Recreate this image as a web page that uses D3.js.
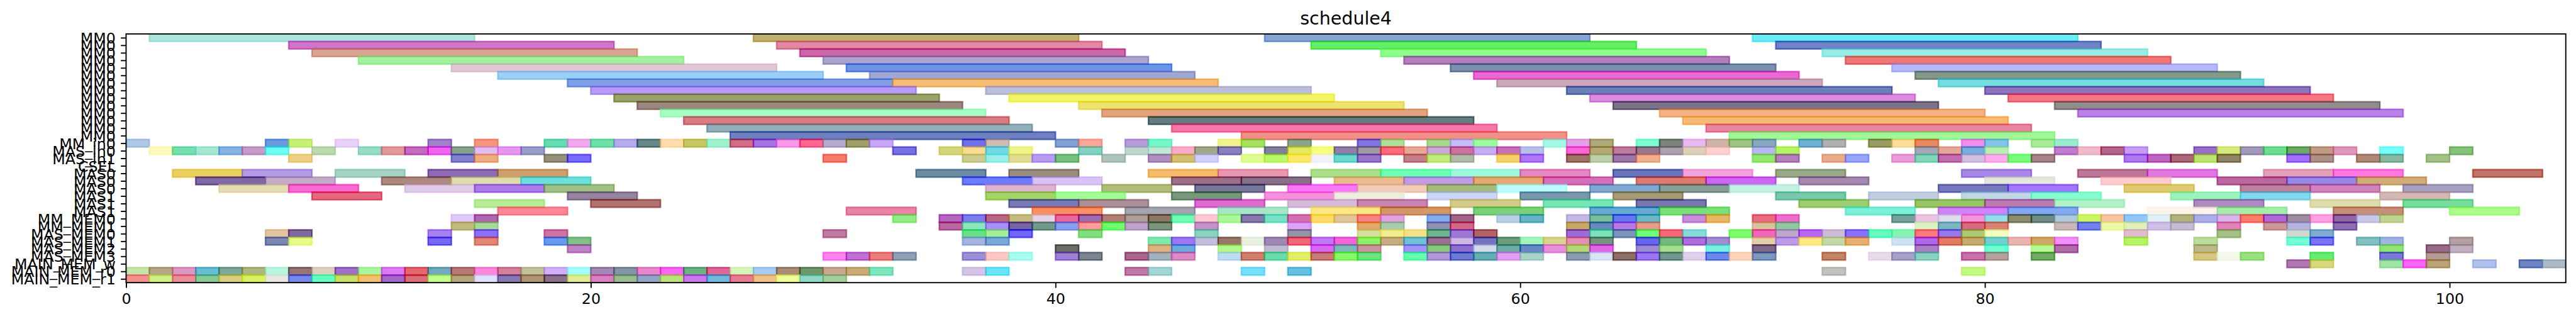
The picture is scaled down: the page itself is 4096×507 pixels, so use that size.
<!DOCTYPE html>
<html>
<head>
<meta charset="utf-8">
<script src="https://cdn.jsdelivr.net/npm/d3@7"></script>
<style>html,body{margin:0;padding:0;background:#fff;overflow:hidden}svg{display:block}text{font-family:"DejaVu Sans",sans-serif;fill:#000}</style>
</head>
<body>
<div id="chart"></div>
<script>
const title = "schedule4";
const rowLabels = ["MM0","MM0","MM0","MM0","MM0","MM0","MM0","MM0","MM0","MM0","MM0","MM0","MM0","MM0",
  "MM_in0","MAS_in0","MAS_in1","CSEL","MAS0","MAS0","MAS0","MAS1","MAS1","MAS1",
  "MM_MEM0","MM_MEM1","MAS_MEM0","MAS_MEM1","MAS_MEM2","MAS_MEM3","MAIN_MEM_w","MAIN_MEM_r0","MAIN_MEM_r1"];
const xTicks = [0,20,40,60,80,100];
const xMax = 105;

// Each entry: [start step, colour as seen on white]
const mm0 = [[1,"#b0e2de"],[27,"#c4b06e"],[49,"#85a4d4"],[70,"#6eecf6"]];
const mm1 = [[7,"#cf76c8"],[28,"#e088a4"],[51,"#66ee66"],[71,"#6e84c6"]];
const mm2 = [[8,"#d8a494"],[29,"#cb66a8"],[54,"#90fe8e"],[73,"#98ece4"]];
const mm3 = [[10,"#a4f2a0"],[30,"#aca4cc"],[55,"#b47ebc"],[74,"#ee7878"]];
const mm4 = [[14,"#e2c8d6"],[31,"#6c94e8"],[57,"#7a90ae"],[76,"#b6b8f8"]];
const mm5 = [[16,"#9acff6"],[32,"#9fa8d4"],[58,"#ea68d2"],[77,"#84988a"]];
const mm6 = [[19,"#82a0e6"],[33,"#f4bc76"],[59,"#cca8bc"],[78,"#76dce0"]];
const mm7 = [[20,"#b79bf4"],[37,"#bcbedc"],[62,"#6a80b6"],[80,"#8e74bc"]];
const mm8 = [[21,"#9aa26c"],[38,"#f0f460"],[63,"#d78cdc"],[81,"#f67684"]];
const mm9 = [[22,"#9a8880"],[41,"#eee270"],[64,"#7a7488"],[83,"#908c8c"]];
const mm10 = [[23,"#a8fcc4"],[42,"#e2a47e"],[66,"#f4b284"],[84,"#bb82e6"]];
const mm11 = [[24,"#d67c82"],[44,"#667c80"],[67,"#f8bb74"]];
const mm12 = [[25,"#92aeb8"],[45,"#f678a8"],[68,"#e8849e"]];
const mm13 = [[26,"#6e80c0"],[48,"#f09088"],[69,"#a2f69a"]];

const mmIn0 = [[0,"#afc8e8"],[6,"#6c9cdf"],[7,"#c6f07c"],[9,"#e8d0f6"],[13,"#9f82c8"],[15,"#f4967e"],[18,"#62dcb0"],[19,"#eeaaec"],[20,"#6ee0a8"],[21,"#b6acea"],[22,"#688888"],[23,"#fedcb0"],[24,"#c4c866"],[25,"#9ef2ce"],[26,"#d06e88"],[27,"#a674e0"],[28,"#f898e8"],[29,"#ff6892"],[30,"#b4acca"],[31,"#a09f6c"],[32,"#c8a8f4"],[36,"#7070e4"],[37,"#ccbcb4"],[40,"#82a0d0"],[41,"#f8a89a"],[43,"#b89ad8"],[44,"#78f6cc"],[47,"#f2f290"],[48,"#a6de66"],[50,"#8ca48c"],[53,"#8074e0"],[54,"#aede9a"],[56,"#a8d68e"],[57,"#c4bcf8"],[58,"#a0fca0"],[61,"#a6f8e4"],[62,"#e4a0e8"],[63,"#aea87c"],[65,"#7efcd2"],[66,"#7a8478"],[67,"#e8b8f0"],[68,"#ccb4a8"],[69,"#a0c488"],[70,"#88a8c0"],[72,"#70b0d0"],[73,"#b0b0b0"],[75,"#9a9c5c"],[76,"#fadc9c"],[77,"#e68a60"],[79,"#ee90ee"],[80,"#84c4e8"],[82,"#a8ec98"],[83,"#9eecce"]];
const masIn0 = [[1,"#fef8bc"],[2,"#78e0b0"],[3,"#a8e6d4"],[4,"#86b4de"],[5,"#c89cc8"],[6,"#70fcf0"],[8,"#bcd8ac"],[10,"#98dcc6"],[11,"#e09a9c"],[12,"#c46cc0"],[13,"#f05ef0"],[14,"#88a090"],[15,"#e0bcf0"],[16,"#e698f0"],[17,"#9c9cc8"],[33,"#7a70e0"],[35,"#d4d67c"],[36,"#f8dc90"],[37,"#72d8e8"],[38,"#eef48c"],[41,"#84d0c0"],[43,"#c0d4d0"],[44,"#c0e8d4"],[45,"#f8acca"],[46,"#a0a88c"],[47,"#8880bc"],[49,"#80809c"],[50,"#e0e858"],[51,"#f4fe80"],[52,"#9080a8"],[53,"#a09ca4"],[54,"#f86c7c"],[55,"#e8a898"],[56,"#cca8d4"],[57,"#cc70a0"],[58,"#c8acf0"],[59,"#c870b8"],[60,"#b8c0e8"],[62,"#f858d8"],[63,"#b4a874"],[64,"#bc7c9c"],[65,"#987890"],[66,"#aca0ac"],[67,"#dcd0b8"],[68,"#fed0d0"],[70,"#b8b8ec"],[71,"#b4f464"],[77,"#a4a8b8"],[78,"#e4a898"],[79,"#78acdc"],[80,"#b8f0b4"],[83,"#c07cd0"],[84,"#eebcc8"],[85,"#b06488"],[86,"#c89cf6"],[89,"#9a70c4"],[90,"#d4ea7c"],[91,"#a49ab8"],[92,"#70dc90"],[93,"#70a868"],[94,"#c09c88"],[95,"#e098b8"],[97,"#78fcfc"],[100,"#88c07c"]];
const masIn1 = [[7,"#ecd088"],[14,"#8480d0"],[15,"#eeac80"],[18,"#96907c"],[19,"#786cfc"],[30,"#f47c70"],[36,"#cccc90"],[37,"#98eee8"],[38,"#e0dc98"],[39,"#b89cf4"],[40,"#78c07c"],[42,"#b0c4bc"],[44,"#b090c0"],[45,"#d4c070"],[46,"#d0d0fc"],[48,"#defc8e"],[49,"#bcf86c"],[50,"#fce868"],[51,"#f4f0fa"],[52,"#6cd8cc"],[53,"#9878cc"],[55,"#c48088"],[56,"#c0ec7c"],[57,"#b0bca8"],[59,"#f4d468"],[60,"#ac78f8"],[62,"#9c7468"],[63,"#bcd0a8"],[64,"#9c78a8"],[65,"#f0b090"],[70,"#94e870"],[71,"#b480bc"],[73,"#e8ac8c"],[74,"#98a4fc"],[76,"#e89cd8"],[77,"#80d8b8"],[78,"#c070b0"],[79,"#d0c0e0"],[80,"#fcacec"],[81,"#78fc7c"],[82,"#a48488"],[86,"#b078f0"],[87,"#c064c0"],[88,"#a86878"],[89,"#bce470"],[90,"#90845c"],[93,"#a070fc"],[94,"#ac9088"],[96,"#b08878"],[97,"#88b8a0"],[99,"#a4c088"]];

const mas0a = [[2,"#ecd066"],[5,"#b49ce4"],[9,"#a6d4c4"],[13,"#8e6cb4"],[16,"#cca070"],[34,"#6e8ca4"],[38,"#968c80"],[44,"#f4bc6c"],[47,"#e898b0"],[51,"#acde8c"],[54,"#70ffb4"],[57,"#a0f8dc"],[60,"#e488c0"],[64,"#6a74b8"],[67,"#f4a4dc"],[71,"#98a888"],[79,"#a888e4"],[84,"#bc7898"],[87,"#e078e0"],[92,"#e4a0b8"],[95,"#fe78e0"],[101,"#c07468"]];
const mas0b = [[3,"#8068a4"],[6,"#c4acc8"],[11,"#ac8880"],[14,"#dedcac"],[17,"#70dedc"],[36,"#6c7cfc"],[39,"#d8c4f4"],[45,"#9c7088"],[48,"#887088"],[52,"#e8bc90"],[55,"#c09ce4"],[58,"#e4a874"],[61,"#d470b8"],[65,"#dc7c70"],[68,"#cc64f0"],[72,"#a488b0"],[80,"#e4e8dc"],[85,"#fecccc"],[90,"#bc68a0"],[93,"#9888e4"],[96,"#d0ac78"]];
const mas0c = [[4,"#e4dcb4"],[7,"#f86cd0"],[12,"#e0cce8"],[15,"#ac7cec"],[18,"#a0c088"],[37,"#dcb4d0"],[42,"#b0bc7c"],[46,"#787898"],[50,"#f878f8"],[53,"#f0ccb8"],[56,"#a4bc80"],[59,"#bcfcfc"],[63,"#82a8d0"],[66,"#889c98"],[69,"#c4f0e4"],[78,"#7478bc"],[81,"#a078fc"],[86,"#e0cc70"],[91,"#bc849c"],[94,"#d084bc"],[98,"#a8a0c0"]];
const mas1a = [[8,"#e46880"],[19,"#9484a0"],[37,"#a4d468"],[40,"#a4fc98"],[45,"#78987c"],[49,"#f490dc"],[52,"#eeeee0"],[56,"#ccd4f8"],[60,"#7a98ac"],[64,"#a89c78"],[71,"#78c8ac"],[75,"#c0cce0"],[79,"#c0d8e4"],[82,"#88fcd0"],[88,"#9cf4bc"],[91,"#84d8ec"],[97,"#d4b8b4"]];
const mas1b = [[15,"#b8ec98"],[20,"#b07470"],[38,"#7878b4"],[41,"#ac9098"],[46,"#dc6cd0"],[50,"#d4bcd8"],[53,"#c884b0"],[57,"#d4cc8c"],[61,"#78e4b4"],[65,"#7878ac"],[72,"#9ccc74"],[77,"#98c468"],[80,"#bc7cb0"],[83,"#b4f0c8"],[89,"#ac8cc0"],[94,"#dedcac"],[98,"#78dc9c"]];
const mas1c = [[16,"#fe8898"],[31,"#e884a8"],[39,"#f89064"],[43,"#a4a4b0"],[47,"#a8e4c8"],[51,"#fce884"],[54,"#d49868"],[58,"#7cd07c"],[63,"#68a8d4"],[66,"#7ce078"],[74,"#7cf0d8"],[78,"#d084f8"],[81,"#84a8f0"],[87,"#fcf4e8"],[90,"#a8ecac"],[95,"#c49078"],[100,"#acfc8c"]];

const mmMem0 = [[14,"#e0c8f8"],[15,"#b068ac"],[33,"#90ec84"],[35,"#b464c0"],[36,"#7c7cec"],[37,"#b86484"],[38,"#c4bc80"],[39,"#e4d4e4"],[40,"#e8689c"],[41,"#9c6cac"],[42,"#b08078"],[43,"#aca098"],[44,"#8a7864"],[45,"#70fcb4"],[46,"#fcc8d4"],[47,"#acf898"],[48,"#8878ac"],[49,"#78e0c4"],[50,"#d470b0"],[51,"#fcdc64"],[52,"#e0c49c"],[53,"#f48484"],[54,"#e0a4dc"],[56,"#84acec"],[57,"#a06488"],[59,"#b8d0e4"],[60,"#68b4c4"],[62,"#c4b8e4"],[63,"#7cbca0"],[64,"#6878f0"],[65,"#6cb8c4"],[67,"#c88cdc"],[68,"#e8b860"],[70,"#e86c80"],[71,"#ec70c8"],[76,"#78a09c"],[77,"#e8c4e0"],[78,"#dcdcec"],[79,"#f894dc"],[80,"#98dce8"],[81,"#8c8c70"],[82,"#708c84"],[83,"#b0c8dc"],[84,"#ccf464"],[85,"#f4c4a4"],[86,"#90c8f8"],[87,"#e0f0f4"],[88,"#b4b080"],[89,"#acb0e8"],[90,"#d8b4e8"],[91,"#fc7c70"],[92,"#b068d8"],[93,"#9c8c9c"],[94,"#fca0e0"],[95,"#9468a4"],[96,"#c8c8e8"],[97,"#c0d494"]];
const mmMem1 = [[14,"#c0bc80"],[15,"#a8d89c"],[35,"#bc68a0"],[36,"#8ce8bc"],[37,"#a890f8"],[38,"#7860a4"],[39,"#74988c"],[40,"#88a0f0"],[41,"#fc9c9c"],[42,"#70fc70"],[43,"#c0a4cc"],[44,"#7c9480"],[46,"#c094c4"],[50,"#dca4f4"],[53,"#e4a868"],[54,"#a8ccac"],[56,"#9090b0"],[57,"#d46488"],[62,"#c8a868"],[63,"#648cbc"],[64,"#b47ce4"],[65,"#e49c8c"],[70,"#dcc09c"],[71,"#94c8a4"],[77,"#dcf4c4"],[78,"#7cb4c0"],[79,"#d46c80"],[80,"#d88474"],[83,"#c8b8b8"],[84,"#7480f0"],[85,"#ecf8a4"],[86,"#e0f0b8"],[87,"#d0c0e8"],[88,"#c4bcd0"],[90,"#e084b8"],[92,"#cc9898"],[93,"#b4b4dc"],[95,"#8c70b4"]];
const masMem0 = [[6,"#e4c4a0"],[7,"#806c9c"],[13,"#a880f0"],[15,"#8c70f8"],[18,"#cc74a4"],[30,"#bc7ca0"],[36,"#68e088"],[37,"#a4ee98"],[38,"#7060fc"],[41,"#80e080"],[46,"#88d4c0"],[50,"#9494a4"],[53,"#d4e09c"],[54,"#f4ec90"],[55,"#f4e08c"],[56,"#70b490"],[57,"#9c78d4"],[58,"#b06468"],[62,"#9c6cd4"],[63,"#7ce0b8"],[64,"#7c94b8"],[65,"#70fc78"],[66,"#f8687c"],[67,"#88dcd8"],[69,"#80fc70"],[70,"#f068b8"],[71,"#c0a8cc"],[72,"#b868f0"],[73,"#ccbcd8"],[74,"#8870f8"],[75,"#60fcc0"],[76,"#88f4b4"],[77,"#fc7880"],[78,"#9478ec"],[79,"#b0c878"],[80,"#f0fcc0"],[86,"#e0bcd0"],[90,"#a4c088"],[93,"#d0d8d4"],[94,"#80acd0"]];
const masMem1 = [[6,"#7c88b4"],[7,"#e4fc88"],[13,"#7468f4"],[15,"#e08878"],[18,"#6c98ec"],[19,"#80c088"],[36,"#a8b4e0"],[37,"#7ca8d8"],[44,"#80e8ac"],[45,"#9c78f0"],[46,"#c0c0dc"],[47,"#987860"],[48,"#e8f0e0"],[49,"#a088b4"],[50,"#f06878"],[51,"#c078f4"],[52,"#f060d8"],[53,"#90f060"],[54,"#c4ac84"],[55,"#70c0d8"],[56,"#9c7094"],[57,"#ccb8e4"],[58,"#7474c0"],[59,"#6c9c7c"],[60,"#a4f4bc"],[61,"#d8d490"],[62,"#e490b0"],[63,"#789480"],[65,"#6864ec"],[66,"#74b884"],[67,"#ac70dc"],[68,"#a48cd0"],[70,"#e4d0a8"],[71,"#bc9ce8"],[72,"#fce884"],[73,"#c4d8a8"],[74,"#e8b070"],[76,"#cce4f0"],[77,"#b068e8"],[78,"#e07c64"],[79,"#c4ac70"],[80,"#74d0d0"],[81,"#e8b4b0"],[82,"#d0a868"],[83,"#f090f8"],[86,"#b4f464"],[89,"#bcdc9c"],[93,"#74fcd4"],[94,"#7874f4"],[96,"#84c0c0"],[97,"#a0b4e0"],[100,"#b4a0a0"]];
const masMem2 = [[19,"#c080c4"],[40,"#6c6c64"],[44,"#e0b084"],[45,"#70a8e0"],[47,"#b4f88c"],[49,"#c0bcd0"],[51,"#d868f0"],[52,"#80b8b8"],[53,"#cc94a0"],[55,"#a094f8"],[56,"#8cc880"],[57,"#8c70d0"],[58,"#d4dcec"],[59,"#70aca4"],[60,"#6888c8"],[61,"#e890dc"],[62,"#b4d878"],[63,"#e068e8"],[65,"#9c8cd4"],[66,"#a8dc90"],[68,"#7cf0e0"],[70,"#806888"],[77,"#a880c4"],[80,"#70fcd0"],[82,"#bcf898"],[83,"#b06ca8"],[89,"#bcb88c"],[97,"#90e474"],[99,"#986c88"],[100,"#c0b0c0"]];
const masMem3 = [[30,"#fc84f0"],[31,"#c070d0"],[32,"#ec7c7c"],[33,"#90a0b4"],[36,"#9c90d8"],[37,"#fcc8c4"],[38,"#a8fcf0"],[40,"#a080d4"],[41,"#7c8490"],[43,"#a86890"],[44,"#a4b0bc"],[45,"#dc8cc4"],[47,"#bcdcf0"],[48,"#d08070"],[49,"#6cdcac"],[50,"#e4ec6c"],[51,"#c87c78"],[52,"#88f868"],[53,"#70e480"],[55,"#68fcb0"],[56,"#b098dc"],[57,"#6c7cd0"],[58,"#68acb4"],[59,"#e4a0f0"],[60,"#a8d4c8"],[62,"#8c9cb0"],[63,"#d8e4f4"],[64,"#8c7068"],[65,"#9c78f0"],[66,"#70988c"],[67,"#e0d0ec"],[68,"#6c88e8"],[69,"#fcd4b8"],[70,"#7c98bc"],[73,"#c08464"],[75,"#e8dce8"],[76,"#a8a0c8"],[77,"#8cd0c0"],[79,"#c870a8"],[80,"#b4a09c"],[82,"#70ac68"],[89,"#d4c884"],[90,"#f4f8e8"],[91,"#98e080"],[94,"#68ec74"],[97,"#7c78d8"],[99,"#b49c94"]];
const mainW = [[93,"#b078b0"],[94,"#d8d880"],[97,"#a0e4a4"],[98,"#fc64f4"],[99,"#b8a478"],[101,"#b0c0ec"],[103,"#6c84c0"],[104,"#acbcc4"]];
const mainR0 = [[0,"#c8e4a8"],[1,"#b4a888"],[2,"#d898c0"],[3,"#68bcd4"],[4,"#80a898"],[5,"#acb880"],[6,"#b8f4dc"],[7,"#947478"],[8,"#dcd0bc"],[9,"#a070c4"],[10,"#acf4a0"],[11,"#dc7cf4"],[12,"#e46870"],[13,"#74a8bc"],[14,"#b87878"],[15,"#fc88dc"],[16,"#d08098"],[17,"#c0c09c"],[18,"#d0b0f4"],[19,"#a4fcfc"],[20,"#a488b4"],[21,"#8494a4"],[22,"#e888cc"],[23,"#f868f0"],[24,"#6cb084"],[25,"#dc6898"],[26,"#d4f4bc"],[27,"#a8ccf0"],[28,"#a88c74"],[29,"#70986c"],[30,"#c8a890"],[31,"#c8ac78"],[32,"#80e4bc"],[36,"#d4c4e8"],[37,"#6ce4f4"],[43,"#c078a4"],[44,"#a4d4d4"],[48,"#78e0fc"],[50,"#68c0dc"],[73,"#c4c0bc"],[79,"#c4f884"]];
const mainR1 = [[0,"#f49090"],[1,"#d0f088"],[2,"#ec8c98"],[3,"#88c898"],[4,"#d8d080"],[5,"#d8f064"],[6,"#e8e8e0"],[7,"#7888e8"],[8,"#68fcc0"],[9,"#c8e06c"],[10,"#f4c070"],[11,"#a468cc"],[12,"#d86c78"],[13,"#c4fc8c"],[14,"#b4a480"],[15,"#e0e0fc"],[16,"#8878b0"],[17,"#b09478"],[18,"#887088"],[19,"#e0ec94"],[20,"#d880c0"],[21,"#98bc90"],[22,"#94a4c8"],[23,"#bce47c"],[24,"#cc78ec"],[25,"#70b8dc"],[26,"#e87c94"],[27,"#f0c088"],[28,"#f0fc98"],[29,"#90d8c8"],[30,"#a4cc9c"]];

// Which list belongs to which row, and how long its steps last
const longRows = [mm0,mm1,mm2,mm3,mm4,mm5,mm6,mm7,mm8,mm9,mm10,mm11,mm12,mm13];
const inputRows = [mmIn0,masIn0,masIn1,[]];
const masRows = [mas0a,mas0b,mas0c,mas1a,mas1b,mas1c];
const memRows = [mmMem0,mmMem1,masMem0,masMem1,masMem2,masMem3,mainW,mainR0,mainR1];
const longSpan = 14, masSpan = 3, unitSpan = 1;

const W = 4096, H = 507, k = W / 4787;
const alpha = 0.6;
const plotLeft = 234.3 * k, plotRight = 4768 * k, plotTop = 63 * k, plotBottom = 525 * k;
const lw = 2.22 * k, barLw = 2.78 * k;

const svg = d3.select("#chart").append("svg").attr("width", W).attr("height", H);
const x = d3.scaleLinear().domain([0, xMax]).range([plotLeft, plotRight]);
const y = d3.scaleLinear().domain([-0.5, rowLabels.length - 0.5]).range([plotTop, plotBottom]);

svg.append("defs").append("clipPath").attr("id", "plot").append("rect")
  .attr("x", plotLeft).attr("y", plotTop).attr("width", plotRight - plotLeft).attr("height", plotBottom - plotTop);

const bars = [];
const addRows = (rows, span, first) => rows.forEach((items, i) =>
  items.forEach(([s, c]) => bars.push({row: first + i, s, span, c})));
addRows(longRows, longSpan, 0);
addRows(inputRows, unitSpan, longRows.length);
addRows(masRows, masSpan, longRows.length + inputRows.length);
addRows(memRows, unitSpan, longRows.length + inputRows.length + masRows.length);

// The listed colours are as they look on white; recover the colour behind the transparency.
const base = hex => {
  const c = d3.rgb(hex), f = v => Math.max(0, Math.min(255, (v - 255 * (1 - alpha)) / alpha));
  return d3.rgb(f(c.r), f(c.g), f(c.b)).formatHex();
};

svg.append("g").attr("clip-path", "url(#plot)").selectAll("rect").data(bars).join("rect")
  .attr("x", d => x(d.s))
  .attr("y", d => y(d.row - 0.5))
  .attr("width", d => x(d.s + d.span) - x(d.s))
  .attr("height", d => y(d.row + 0.5) - y(d.row - 0.5))
  .attr("fill", d => base(d.c)).attr("fill-opacity", alpha)
  .attr("stroke", d => base(d.c)).attr("stroke-opacity", alpha)
  .attr("stroke-width", barLw);

const fontSize = 27.8 * k;
const yAxis = d3.axisLeft(y).tickValues(d3.range(rowLabels.length)).tickFormat(i => rowLabels[i])
  .tickSize(9.7 * k).tickPadding(9.7 * k);
const gy = svg.append("g").attr("transform", `translate(${plotLeft},0)`).call(yAxis);
gy.select(".domain").remove();
gy.selectAll("line").attr("stroke", "#000").attr("stroke-width", lw);
gy.selectAll("text").attr("font-size", fontSize).attr("font-family", '"DejaVu Sans"').attr("dy", "0.365em");

const xAxis = d3.axisBottom(x).tickValues(xTicks).tickFormat(d3.format("d")).tickSize(9.7 * k).tickPadding(9.7 * k);
const gx = svg.append("g").attr("transform", `translate(0,${plotBottom})`).call(xAxis);
gx.select(".domain").remove();
gx.selectAll("line").attr("stroke", "#000").attr("stroke-width", lw);
gx.selectAll("text").attr("font-size", fontSize).attr("font-family", '"DejaVu Sans"').attr("y", 40 * k).attr("dy", 0);

svg.append("rect").attr("x", plotLeft).attr("y", plotTop).attr("width", plotRight - plotLeft).attr("height", plotBottom - plotTop)
  .attr("fill", "none").attr("stroke", "#000").attr("stroke-width", lw);

svg.append("text").attr("x", (plotLeft + plotRight) / 2).attr("y", 45.5 * k).attr("text-anchor", "middle")
  .attr("font-size", 33.3 * k).text(title);
</script>
</body>
</html>
